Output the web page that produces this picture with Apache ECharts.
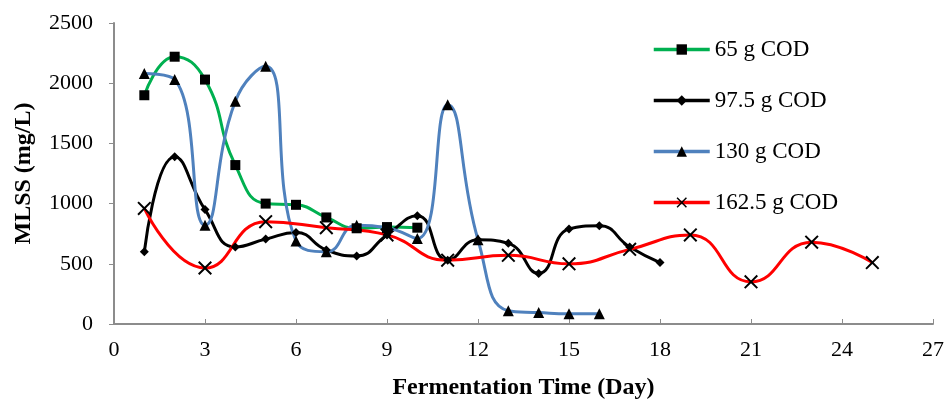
<!DOCTYPE html>
<html>
<head>
<meta charset="utf-8">
<script src="https://cdn.jsdelivr.net/npm/echarts@6/dist/echarts.min.js"></script>
<style>
  html, body { margin: 0; padding: 0; background: #fff; }
  #main { width: 947px; height: 402px; }
</style>
</head>
<body>
<div id="main"></div>
<script>
// MLSS (mg/L) per fermentation day
var days65 = [1, 2, 3, 4, 5, 6, 7, 8, 9, 10];
var mlss65 = [1900, 2220, 2030, 1320, 1000, 990, 885, 795, 805, 800];

var days97 = [1, 2, 3, 4, 5, 6, 7, 8, 9, 10, 11, 12, 13, 14, 15, 16, 17, 18];
var mlss97 = [600, 1390, 950, 640, 705, 760, 615, 565, 740, 900, 530, 700, 670, 420, 790, 815, 640, 510];

var days130 = [1, 2, 3, 4, 5, 6, 7, 8, 9, 10, 11, 12, 13, 14, 15, 16];
var mlss130 = [2080, 2030, 820, 1850, 2140, 690, 600, 820, 800, 710, 1820, 700, 110, 95, 85, 85];

var days162 = [1, 3, 5, 7, 9, 11, 13, 15, 17, 19, 21, 23, 25];
var mlss162 = [960, 465, 850, 800, 740, 530, 570, 500, 620, 740, 350, 680, 510];

var seriesNames = ['65 g COD', '97.5 g COD', '130 g COD', '162.5 g COD'];
var lineColors = ['#00b050', '#000000', '#4f81bd', '#ff0000'];

var crossPath = 'path://M0,1L1,0L5,4L9,0L10,1L6,5L10,9L9,10L5,6L1,10L0,9L4,5Z';

function pairs(xs, ys) {
  return xs.map(function (x, i) { return [x, ys[i]]; });
}

var myChart = echarts.init(document.getElementById('main'));
var serif = '"Liberation Serif", "Times New Roman", serif';

function mk(i, data, symbol, size) {
  return {
    name: seriesNames[i],
    type: 'line',
    smooth: 0.5,
    data: data,
    symbol: symbol,
    symbolSize: size,
    lineStyle: { color: lineColors[i], width: 3 },
    itemStyle: { color: '#000' }
  };
}

var option = {
  backgroundColor: '#fff',
  animation: false,
  grid: { left: 114, right: 14, top: 23, bottom: 78, outerBoundsMode: 'none' },
  legend: {
    orient: 'vertical',
    left: 647,
    top: 33,
    itemWidth: 56,
    itemHeight: 13,
    itemGap: 28,
    lineStyle: { width: 3.5 },
    textStyle: { fontFamily: serif, fontSize: 23, color: '#000' },
    data: seriesNames
  },
  xAxis: {
    type: 'value',
    min: 0, max: 27, interval: 3,
    name: 'Fermentation Time (Day)',
    nameLocation: 'middle',
    nameGap: 52,
    nameTextStyle: { fontFamily: serif, fontSize: 24, fontWeight: 'bold', color: '#000' },
    axisLine: { lineStyle: { color: '#8c8c8c', width: 2 } },
    axisTick: { inside: true, length: 5, lineStyle: { color: '#8c8c8c' } },
    axisLabel: { fontFamily: serif, fontSize: 22, color: '#000', margin: 15 },
    splitLine: { show: false }
  },
  yAxis: {
    type: 'value',
    min: 0, max: 2500, interval: 500,
    name: 'MLSS (mg/L)',
    nameLocation: 'middle',
    nameGap: 78,
    nameTextStyle: { fontFamily: serif, fontSize: 24, fontWeight: 'bold', color: '#000' },
    axisLine: { show: true, lineStyle: { color: '#8c8c8c', width: 2 } },
    axisTick: { show: true, length: 5, lineStyle: { color: '#8c8c8c' } },
    axisLabel: {
      fontFamily: serif, fontSize: 22, color: '#000', margin: 21,
      formatter: function (v) { return String(v); }
    },
    splitLine: { show: false }
  },
  series: [
    mk(0, pairs(days65, mlss65), 'rect', 10),
    mk(1, pairs(days97, mlss97), 'diamond', 9),
    mk(2, pairs(days130, mlss130), 'triangle', 11),
    mk(3, pairs(days162, mlss162), crossPath, 14)
  ]
};

myChart.setOption(option);
</script>
</body>
</html>
